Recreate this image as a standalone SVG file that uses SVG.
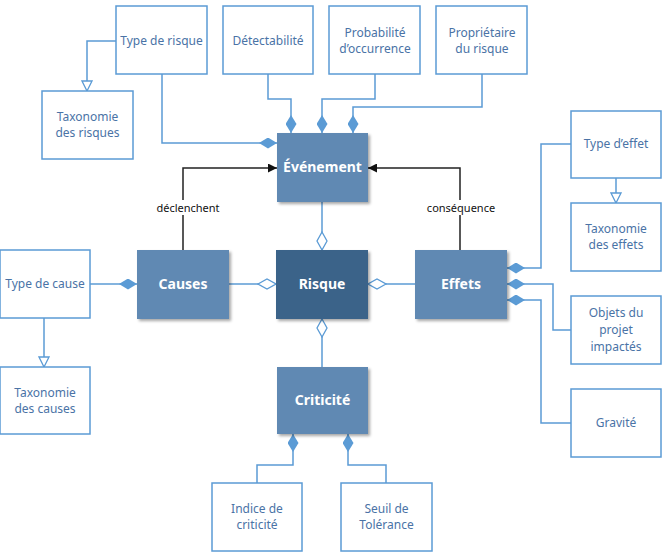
<svg xmlns="http://www.w3.org/2000/svg" width="662" height="557" viewBox="0 0 662 557">
<style>
.ob{fill:#fff;stroke:#5B9BD5;stroke-width:1.5}
.ot{font-family:"Noto Sans","Open Sans",sans-serif;font-size:12px;fill:#4A73A6;text-anchor:middle}
.fb{fill:#6189B3;filter:url(#sh)}
.rb{fill:#3A6389;filter:url(#sh)}
.ft{font-family:"Noto Sans","Open Sans",sans-serif;font-size:14px;font-weight:bold;fill:#fff;text-anchor:middle}
.ln{fill:none;stroke:#5B9BD5;stroke-width:1.5}
.bk{fill:none;stroke:#222;stroke-width:1.5}
.lb{font-family:"Noto Sans","Open Sans",sans-serif;font-size:11px;fill:#111;text-anchor:middle}
</style>
<defs>
<filter id="sh" x="-10%" y="-10%" width="130%" height="130%">
<feDropShadow dx="2" dy="2" stdDeviation="1.5" flood-color="#000" flood-opacity="0.35"/>
</filter>
<marker id="fd" viewBox="0 0 18 11" refX="18" refY="5.5" markerWidth="18" markerHeight="11" markerUnits="userSpaceOnUse" orient="auto">
<path d="M0,5.5 L9,0 L18,5.5 L9,11 Z" fill="#5B9BD5"/>
</marker>
<marker id="hd" viewBox="0 0 20 12" refX="19" refY="6" markerWidth="20" markerHeight="12" markerUnits="userSpaceOnUse" orient="auto">
<path d="M1,6 L10,1 L19,6 L10,11 Z" fill="#fff" stroke="#5B9BD5" stroke-width="1.3"/>
</marker>
<marker id="ht" viewBox="0 0 12 12" refX="11" refY="6" markerWidth="12" markerHeight="12" markerUnits="userSpaceOnUse" orient="auto">
<path d="M1,1 L11,6 L1,11 Z" fill="#fff" stroke="#5B9BD5" stroke-width="1.3"/>
</marker>
<marker id="ba" viewBox="0 0 9 9" refX="9" refY="4.5" markerWidth="9" markerHeight="9" markerUnits="userSpaceOnUse" orient="auto">
<path d="M0,0 L9,4.5 L0,9 Z" fill="#111"/>
</marker>
</defs>
<rect width="662" height="557" fill="#fff"/>

<g id="connectors">
<path class="ln" d="M116,41 H87 V91" marker-end="url(#ht)"/>
<path class="ln" d="M162,74 V143 H277" marker-end="url(#fd)"/>
<path class="ln" d="M268,74 V99 H291 V133" marker-end="url(#fd)"/>
<path class="ln" d="M375,74 V99 H322 V133" marker-end="url(#fd)"/>
<path class="ln" d="M482,74 V107 H353 V133" marker-end="url(#fd)"/>
<path class="ln" d="M322,202 V250" marker-end="url(#hd)"/>
<path class="ln" d="M229,284 H276" marker-end="url(#hd)"/>
<path class="ln" d="M415,284 H368" marker-end="url(#hd)"/>
<path class="ln" d="M322,367 V319" marker-end="url(#hd)"/>
<path class="ln" d="M90,284 H137" marker-end="url(#fd)"/>
<path class="ln" d="M44,318 V367" marker-end="url(#ht)"/>
<path class="ln" d="M257,483 V465 H293 V434" marker-end="url(#fd)"/>
<path class="ln" d="M386,483 V465 H348 V434" marker-end="url(#fd)"/>
<path class="ln" d="M571,144 H541 V268 H507" marker-end="url(#fd)"/>
<path class="ln" d="M616,178 V203" marker-end="url(#ht)"/>
<path class="ln" d="M571,330 H553 V284 H507" marker-end="url(#fd)"/>
<path class="ln" d="M571,423 H541 V300 H507" marker-end="url(#fd)"/>
<path class="bk" d="M183,250 V168 H277" marker-end="url(#ba)"/>
<path class="bk" d="M460,250 V168 H368" marker-end="url(#ba)"/>
<rect x="154" y="200" width="68" height="15" fill="#fff"/>
<text class="lb" x="188" y="212">déclenchent</text>
<rect x="426" y="200" width="70" height="15" fill="#fff"/>
<text class="lb" x="461" y="212">conséquence</text>
</g>

<g id="type-risque"><rect class="ob" x="116" y="6" width="91" height="68"/><text class="ot" x="161.5" y="45">Type de risque</text></g>
<g id="detectabilite"><rect class="ob" x="223" y="6" width="90" height="68"/><text class="ot" x="268" y="45">Détectabilité</text></g>
<g id="probabilite"><rect class="ob" x="329" y="6" width="91" height="68"/><text class="ot" x="375" y="37">Probabilité</text><text class="ot" x="375" y="53">d’occurrence</text></g>
<g id="proprietaire"><rect class="ob" x="436" y="6" width="91" height="68"/><text class="ot" x="482" y="37">Propriétaire</text><text class="ot" x="482" y="53">du risque</text></g>
<g id="taxonomie-risques"><rect class="ob" x="42" y="91" width="91" height="68"/><text class="ot" x="87.5" y="121">Taxonomie</text><text class="ot" x="87.5" y="137">des risques</text></g>

<g id="evenement"><rect class="fb" x="277" y="133" width="91" height="69"/><text class="ft" x="322.5" y="172">Événement</text></g>
<g id="causes"><rect class="fb" x="137" y="250" width="92" height="69"/><text class="ft" x="183" y="289">Causes</text></g>
<g id="risque"><rect class="rb" x="276" y="250" width="92" height="69"/><text class="ft" x="322" y="289">Risque</text></g>
<g id="effets"><rect class="fb" x="415" y="250" width="92" height="69"/><text class="ft" x="461" y="289">Effets</text></g>
<g id="criticite"><rect class="fb" x="277" y="367" width="91" height="67"/><text class="ft" x="322.5" y="405">Criticité</text></g>

<g id="type-cause"><rect class="ob" x="0" y="250" width="90" height="68"/><text class="ot" x="45" y="288">Type de cause</text></g>
<g id="taxonomie-causes"><rect class="ob" x="0" y="367" width="90" height="67"/><text class="ot" x="45" y="397">Taxonomie</text><text class="ot" x="45" y="413">des causes</text></g>

<g id="indice"><rect class="ob" x="212" y="483" width="90" height="68"/><text class="ot" x="257" y="513">Indice de</text><text class="ot" x="257" y="529">criticité</text></g>
<g id="seuil"><rect class="ob" x="341" y="483" width="91" height="68"/><text class="ot" x="386.5" y="513">Seuil de</text><text class="ot" x="386.5" y="529">Tolérance</text></g>

<g id="type-effet"><rect class="ob" x="571" y="111" width="90" height="67"/><text class="ot" x="616" y="148">Type d’effet</text></g>
<g id="taxonomie-effets"><rect class="ob" x="571" y="203" width="90" height="68"/><text class="ot" x="616" y="233">Taxonomie</text><text class="ot" x="616" y="249">des effets</text></g>
<g id="objets"><rect class="ob" x="571" y="296" width="90" height="68"/><text class="ot" x="616" y="317">Objets du</text><text class="ot" x="616" y="334">projet</text><text class="ot" x="616" y="351">impactés</text></g>
<g id="gravite"><rect class="ob" x="571" y="389" width="90" height="68"/><text class="ot" x="616" y="427">Gravité</text></g>
</svg>
